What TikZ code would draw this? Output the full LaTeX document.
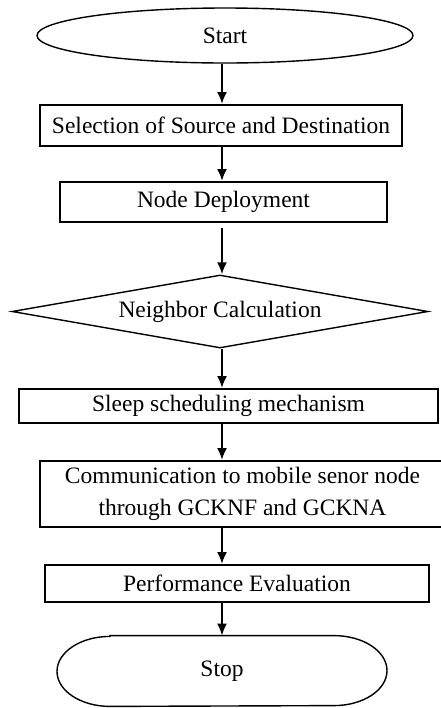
\documentclass[tikz,border=0pt]{standalone}
\usepackage{fontspec}
\setmainfont{Liberation Serif}
\usetikzlibrary{arrows.meta,shapes.geometric}
\tikzset{
	procbox/.style={draw, line width=1pt, inner sep=0pt, align=center},
	thinshape/.style={draw, line width=0.7pt, inner sep=0pt},
	flowarrow/.style={-{Latex[length=6pt,width=5pt]}, line width=1pt}
}

\begin{document}
\begin{tikzpicture}[x=0.5pt,y=-0.5pt,font=\fontsize{11.75}{16}\selectfont]
	\useasboundingbox (0,0) rectangle (440,708);

	% steps, top to bottom
	\node[thinshape, ellipse, minimum width=188pt, minimum height=27.5pt] (start) at (225,35.5) {Start};
	\node[procbox, minimum width=181pt, minimum height=20.5pt] (select) at (221,125.5) {Selection of Source and Destination};
	\node[procbox, minimum width=163.5pt, minimum height=20pt] (deploy) at (223.5,202) {Node Deployment};
	\node[thinshape, diamond, aspect=5.7, minimum width=208pt, minimum height=36.5pt] (neighbor) at (220,311.5) {Neighbor Calculation};
	\node[procbox, minimum width=209.5pt, minimum height=17pt] (sleep) at (228.5,406) {Sleep scheduling mechanism};
	\node[procbox, minimum width=202.5pt, minimum height=33pt] (comm) at (242.5,494) {Communication to mobile senor node\\through GCKNF and GCKNA};
	\node[procbox, minimum width=192pt, minimum height=18.5pt] (perf) at (237,583.5) {Performance Evaluation};
	\node[inner sep=0pt, minimum width=165pt, minimum height=35pt] (stop) at (222,671) {Stop};

	% stop terminal, flat top and bottom with oval ends
	\draw[line width=0.7pt] ([xshift=-56pt]stop.north) -- ([xshift=56pt]stop.north)
		arc[start angle=90, end angle=-90, x radius=26.5pt, y radius=17.5pt]
		-- ([xshift=-56pt]stop.south)
		arc[start angle=270, end angle=90, x radius=26.5pt, y radius=17.5pt] -- cycle;

	% all arrows run down one line
	\coordinate (axis) at (222,0);
	\draw[flowarrow] (start.south -| axis) -- (select.north -| axis);
	\draw[flowarrow] (select.south -| axis) -- (deploy.north -| axis);
	\draw[flowarrow, shorten <=2.5pt] (deploy.south -| axis) -- (neighbor.north -| axis);
	\draw[flowarrow] (neighbor.south -| axis) -- (sleep.north -| axis);
	\draw[flowarrow] (sleep.south -| axis) -- (comm.north -| axis);
	\draw[flowarrow] (comm.south -| axis) -- (perf.north -| axis);
	\draw[flowarrow] (perf.south -| axis) -- (stop.north -| axis);
\end{tikzpicture}
\end{document}
